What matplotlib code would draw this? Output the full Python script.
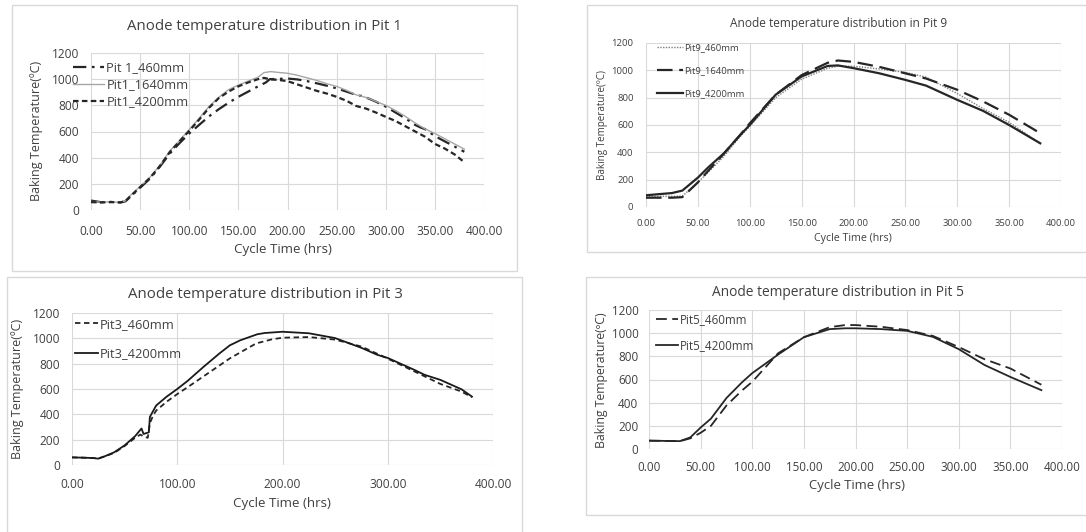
import matplotlib.pyplot as plt
from matplotlib.patches import Rectangle

plt.rcParams['font.family'] = ['Open Sans', 'DejaVu Sans']

# ---- Pit 1 ----
p1_460_x = [0, 5, 10, 20, 30, 35, 40, 50, 60, 70, 80, 90, 100, 110, 120, 130, 140, 150, 160, 170, 178,
            182, 190, 200, 210, 220, 230, 240, 250, 260, 270, 275, 280, 290, 300, 310, 320, 330, 335,
            340, 350, 360, 370, 380]
p1_460_y = [72, 66, 60, 62, 58, 66, 100, 170, 240, 330, 430, 510, 585, 650, 715, 770, 820, 865, 905, 945, 975,
            1000, 1002, 1005, 998, 985, 968, 950, 930, 905, 880, 872, 860, 828, 790, 745, 700, 650, 632,
            618, 565, 525, 485, 445]
p1_1640_x = [0, 10, 20, 30, 35, 40, 50, 60, 70, 80, 90, 100, 110, 120, 130, 140, 150, 160, 170, 176,
             183, 190, 200, 210, 220, 230, 240, 250, 260, 270, 280, 290, 300, 310, 320, 330, 340,
             350, 360, 370, 380]
p1_1640_y = [65, 60, 62, 58, 70, 110, 180, 250, 340, 450, 530, 615, 700, 790, 860, 920, 955, 985, 1015, 1050,
             1058, 1052, 1045, 1030, 1010, 990, 965, 945, 915, 880, 860, 830, 800, 760, 715, 665, 620,
             585, 545, 505, 465]
p1_4200_x = [0, 10, 20, 30, 35, 40, 50, 60, 70, 80, 90, 100, 110, 120, 130, 140, 150, 160, 170, 176,
             183, 190, 200, 210, 220, 230, 240, 250, 260, 270, 280, 290, 300, 310, 320, 330, 340,
             350, 360, 370, 380]
p1_4200_y = [60, 58, 60, 58, 68, 105, 175, 245, 335, 440, 525, 605, 690, 780, 855, 905, 945, 975, 1000, 1010,
             998, 995, 985, 960, 935, 910, 890, 865, 835, 795, 775, 745, 712, 680, 640, 600, 560,
             505, 470, 425, 365]

# ---- Pit 9 ----
p9_x = [0, 25, 35, 50, 60, 75, 90, 100, 125, 150, 175, 185, 200, 225, 250, 270, 300, 325, 350, 380]
p9_460_y = [78, 78, 80, 180, 255, 370, 510, 590, 800, 935, 1015, 1030, 1030, 1010, 985, 950, 830, 720, 620, 465]
p9_1640_y = [68, 68, 72, 180, 265, 390, 520, 612, 822, 965, 1055, 1072, 1062, 1025, 978, 940, 858, 772, 675, 540]
p9_4200_y = [86, 102, 120, 215, 290, 392, 520, 600, 822, 955, 1032, 1036, 1016, 978, 930, 888, 784, 703, 600, 466]

# ---- Pit 3 ----
p3_460_x = [0, 10, 20, 25, 30, 40, 50, 60, 65, 68, 72, 74, 77, 80, 90, 100, 110, 125, 150, 175,
            190, 200, 225, 250, 275, 300, 325, 335, 350, 370, 380]
p3_460_y = [60, 58, 55, 52, 65, 95, 150, 215, 240, 225, 215, 330, 390, 430, 500, 560, 615, 700, 842, 960,
            992, 1005, 1010, 990, 935, 840, 740, 700, 640, 580, 535]
p3_4200_x = [0, 10, 20, 25, 30, 40, 50, 60, 66, 68, 70, 73, 74, 76, 80, 90, 100, 110, 125, 140, 150,
             160, 176, 183, 200, 225, 250, 275, 290, 300, 325, 335, 350, 370, 380]
p3_4200_y = [60, 58, 55, 50, 65, 100, 155, 228, 288, 245, 250, 258, 380, 410, 470, 540, 600, 665, 775, 880, 945,
             985, 1032, 1042, 1052, 1040, 1002, 925, 870, 845, 752, 712, 672, 598, 540]

# ---- Pit 5 ----
p5_x = [0, 30, 40, 50, 60, 75, 90, 100, 125, 150, 175, 190, 200, 225, 250, 275, 300, 325, 350, 380]
p5_460_y = [72, 68, 92, 140, 200, 375, 505, 580, 826, 965, 1052, 1070, 1070, 1055, 1027, 976, 880, 775, 695, 555]
p5_4200_y = [72, 68, 100, 185, 262, 440, 575, 655, 815, 965, 1035, 1042, 1042, 1035, 1020, 968, 862, 725, 622, 508]

W, H = 1086, 532
fig = plt.figure(figsize=(W / 100, H / 100), dpi=100)

TXT = '#404040'
GRID = '#d9d9d9'


def frame(x0, y0, x1, y1):
    fig.patches.append(Rectangle((x0 / W, 1 - y1 / H), (x1 - x0) / W, (y1 - y0) / H,
                                 transform=fig.transFigure, fill=False, ec='#d9d9d9', lw=1))


def panel(box, xstep, fs, title, tpos, xpos, ypos, tfs, xpad, ypad):
    l, r, t, b = box
    ax = fig.add_axes([l / W, 1 - b / H, (r - l) / W, (b - t) / H])
    ax.set_xlim(0, 400)
    ax.set_ylim(0, 1200)
    ax.set_xticks(range(0, 401, xstep))
    ax.set_xticklabels([f'{v:.2f}' for v in range(0, 401, xstep)])
    ax.set_yticks(range(0, 1201, 200))
    ax.grid(True, color=GRID, lw=0.8)
    ax.set_axisbelow(True)
    for s in ax.spines.values():
        s.set_visible(False)
    ax.tick_params(length=0, labelsize=fs, colors=TXT)
    ax.tick_params(axis='x', pad=xpad)
    ax.tick_params(axis='y', pad=ypad)
    fig.text(tpos[0] / W, 1 - tpos[1] / H, title, ha='center', va='center', fontsize=tfs, color=TXT)
    fig.text(xpos[0] / W, 1 - xpos[1] / H, 'Cycle Time (hrs)', ha='center', va='center',
             fontsize=fs * 1.12, color=TXT)
    fig.text(ypos[0] / W, 1 - ypos[1] / H, 'Baking Temperature(ºC)', ha='center', va='center',
             rotation=90, fontsize=fs * 1.05, color=TXT)
    return ax


# frames
frame(12, 5, 517, 271)
frame(587, 5, 1090, 252)
frame(7, 277, 522, 540)
frame(586, 277, 1090, 515)

# Pit 1
ax1 = panel((91, 484, 53, 210), 50, 8.6, 'Anode temperature distribution in Pit 1',
            (264, 27), (283, 250), (37, 131), 10.8, 10.5, 8.4)
ax1.plot(p1_460_x, p1_460_y, color='#262626', lw=1.6, ls=(0, (6, 2.5, 1.2, 2.5)), label='Pit 1_460mm')
ax1.plot(p1_1640_x, p1_1640_y, color='#a6a6a6', lw=1.0, label='Pit1_1640mm')
ax1.plot(p1_4200_x, p1_4200_y, color='#262626', lw=1.6, ls=(0, (2.5, 1.5)), label='Pit1_4200mm')
ax1.legend(loc='upper left', bbox_to_anchor=(-0.063, 0.99), frameon=False, fontsize=9.3,
           handlelength=2.45, handletextpad=0.15, labelspacing=0.32, borderpad=0, labelcolor=TXT)

# Pit 9
ax2 = panel((646, 1061, 43, 207), 50, 6.8, 'Anode temperature distribution in Pit 9',
            (839, 23), (853, 239), (603, 125), 8.6, 9, 9)
ax2.plot(p9_x, p9_460_y, color='#7f7f7f', lw=1.0, ls=(0, (1, 1)), label='Pit9_460mm')
ax2.plot(p9_x, p9_1640_y, color='#262626', lw=1.6, ls=(0, (7, 3)), label='Pit9_1640mm')
ax2.plot(p9_x, p9_4200_y, color='#262626', lw=1.6, label='Pit9_4200mm')
ax2.legend(loc='upper left', bbox_to_anchor=(0.014, 1.025), frameon=False, fontsize=6.8,
           handlelength=2.75, handletextpad=0.15, labelspacing=1.45, borderpad=0, labelcolor=TXT)

# Pit 3
ax3 = panel((72, 493, 313, 465), 100, 8.6, 'Anode temperature distribution in Pit 3',
            (265, 295), (282, 503), (18, 389), 10.8, 9, 8.4)
ax3.plot(p3_460_x, p3_460_y, color='#262626', lw=1.3, ls=(0, (3, 2)), label='Pit3_460mm')
ax3.plot(p3_4200_x, p3_4200_y, color='#1a1a1a', lw=1.3, label='Pit3_4200mm')
ax3.legend(loc='upper left', bbox_to_anchor=(-0.009, 1.012), frameon=False, fontsize=9.3,
           handlelength=1.8, handletextpad=0.15, labelspacing=1.3, borderpad=0, labelcolor=TXT)

# Pit 5
ax4 = panel((649, 1062, 310, 449), 50, 8.4, 'Anode temperature distribution in Pit 5',
            (838, 293), (857, 485), (601, 380), 9.9, 8.4, 7.6)
ax4.plot(p5_x, p5_460_y, color='#262626', lw=1.3, ls=(0, (6, 3)), label='Pit5_460mm')
ax4.plot(p5_x, p5_4200_y, color='#262626', lw=1.3, label='Pit5_4200mm')
ax4.legend(loc='upper left', bbox_to_anchor=(0.003, 1.02), frameon=False, fontsize=8.4,
           handlelength=1.9, handletextpad=0.15, labelspacing=1.15, borderpad=0, labelcolor=TXT)

fig.savefig('out.png', dpi=100)
